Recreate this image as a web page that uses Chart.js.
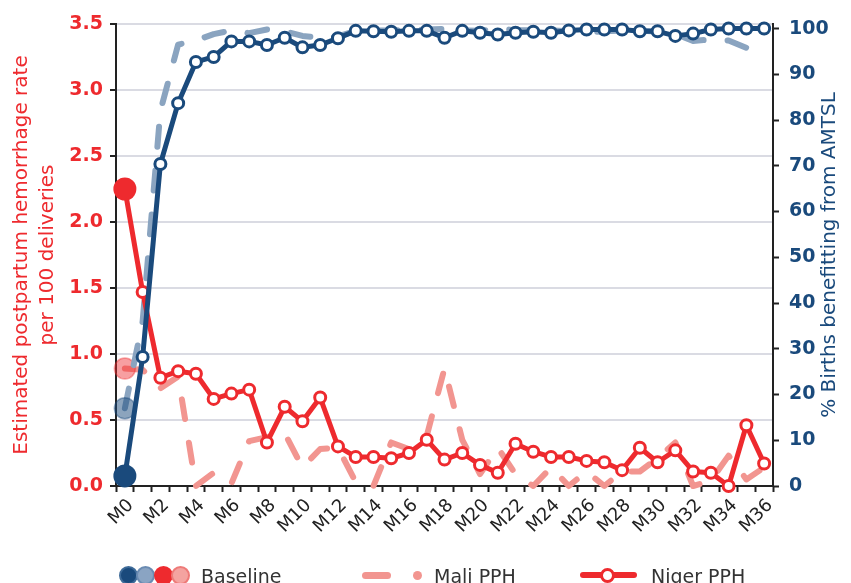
<!DOCTYPE html>
<html>
<head>
<meta charset="utf-8">
<script src="https://cdn.jsdelivr.net/npm/chart.js@4/dist/chart.umd.min.js"></script>
<style>
  html, body { margin: 0; padding: 0; background: #fff; }
  #wrap { position: relative; width: 851px; height: 583px; overflow: hidden; font-family: "DejaVu Sans", sans-serif; }
  #chart { position: absolute; left: 0; top: 0; }
  .lg { position: absolute; }
  .dot { position: absolute; border-radius: 50%; box-sizing: border-box; }
  .lgText { position: absolute; top: 564px; font-size: 19px; line-height: 24px; color: #333; white-space: nowrap; }
</style>
</head>
<body>
<div id="wrap">
  <canvas id="chart" width="851" height="583"></canvas>

  <!-- legend: Baseline -->
  <div class="dot" style="left:119px;top:566px;width:19px;height:19px;background:#1a4a7c;border:2px solid #3d6a98;"></div>
  <div class="dot" style="left:136px;top:566px;width:19px;height:19px;background:#8aa4c3;border:2px solid #6a8bb2;"></div>
  <div class="dot" style="left:154px;top:566px;width:19px;height:19px;background:#ee2a2e;"></div>
  <div class="dot" style="left:171px;top:566px;width:19px;height:19px;background:#f4a3a0;border:2px solid #ee7a78;"></div>
  <div class="lgText" style="left:201px;">Baseline</div>

  <!-- legend: Mali PPH -->
  <div class="lg" style="left:362px;top:572px;width:29px;height:7px;border-radius:4px;background:#f29590;"></div>
  <div class="dot" style="left:413px;top:571px;width:9px;height:9px;background:#f29590;"></div>
  <div class="lgText" style="left:434px;">Mali PPH</div>

  <!-- legend: Niger PPH -->
  <div class="lg" style="left:580px;top:572px;width:57px;height:6px;border-radius:3px;background:#ee2a2e;"></div>
  <div class="dot" style="left:600px;top:568px;width:15px;height:15px;background:#fff;border:3px solid #ee2a2e;"></div>
  <div class="lgText" style="left:651px;">Niger PPH</div>
</div>

<script>
const RED = "#ee2a2e";
const LIGHT_RED = "#f29590";
const NAVY = "#1a4a7c";
const LIGHT_BLUE = "#8aa4c0";
const AXIS = "#222222";
const GRID = "#dadbe3";

const months = [
  "M0", "M1", "M2", "M3", "M4", "M5", "M6", "M7", "M8", "M9",
  "M10", "M11", "M12", "M13", "M14", "M15", "M16", "M17", "M18", "M19",
  "M20", "M21", "M22", "M23", "M24", "M25", "M26", "M27", "M28", "M29",
  "M30", "M31", "M32", "M33", "M34", "M35", "M36"
];

// % births benefitting from AMTSL (right axis)
const nigerAmtsl = [
  2.2, 28.2, 70.4, 83.7, 92.7, 93.8, 97.2, 97.2, 96.4, 98.0,
  95.9, 96.4, 97.9, 99.5, 99.4, 99.3, 99.5, 99.5, 98.0, 99.5,
  99.1, 98.7, 99.1, 99.3, 99.1, 99.6, 99.8, 99.8, 99.8, 99.4,
  99.4, 98.4, 98.9, 99.8, 100, 100, 100
];
const maliAmtsl = [
  17, 36, 82, 96.5, 97.4, 98.8, 99.6, 99.0, 99.8, 99.4,
  98.4, 98.0, 98.3, 99.5, 99.6, 99.6, 99.7, 99.8, 99.9, 99.6,
  99.5, 99.9, 99.7, 99.6, 99.6, 99.4, 99.2, 99.4, 99.6, 99.6,
  99.3, 98.8, 97.3, 97.6, 97.4, 95.8, 98.8
];

// estimated PPH rate per 100 deliveries (left axis)
const nigerPph = [
  2.25, 1.47, 0.82, 0.87, 0.85, 0.66, 0.70, 0.73, 0.33, 0.60,
  0.49, 0.67, 0.30, 0.22, 0.22, 0.21, 0.25, 0.35, 0.20, 0.25,
  0.16, 0.10, 0.32, 0.26, 0.22, 0.22, 0.19, 0.18, 0.12, 0.29,
  0.18, 0.27, 0.11, 0.10, 0.00, 0.46, 0.17
];
const maliPph = [
  0.89, 0.88, 0.74, 0.83, 0.00, 0.10, 0.02, 0.34, 0.37, 0.40,
  0.14, 0.28, 0.29, 0.03, 0.00, 0.33, 0.28, 0.38, 0.89, 0.35,
  0.09, 0.29, 0.09, 0.00, 0.14, 0.00, 0.11, 0.00, 0.11, 0.11,
  0.21, 0.33, 0.00, 0.04, 0.23, 0.05, 0.14
];

const leftTicks = [0, 0.5, 1, 1.5, 2, 2.5, 3, 3.5];
const rightTicks = [0, 10, 20, 30, 40, 50, 60, 70, 80, 90, 100];

const LEFT_TITLE = ["Estimated postpartum hemorrhage rate", "per 100 deliveries"];
const RIGHT_TITLE = "% Births benefitting from AMTSL";

const FONT = '"DejaVu Sans", sans-serif';

// first point of each series is the baseline marker
const isBase = c => c.dataIndex === 0;

// right axis title reads bottom-to-top, so draw it ourselves
const rightTitle = {
  id: "rightTitle",
  afterDraw(chart) {
    const { ctx, chartArea } = chart;
    ctx.save();
    ctx.translate(830, (chartArea.top + chartArea.bottom) / 2);
    ctx.rotate(-Math.PI / 2);
    ctx.font = "20px " + FONT;
    ctx.fillStyle = NAVY;
    ctx.textAlign = "center";
    ctx.textBaseline = "middle";
    ctx.fillText(RIGHT_TITLE, 0, 0);
    ctx.restore();
  }
};

new Chart(document.getElementById("chart"), {
  type: "line",
  data: {
    labels: months,
    datasets: [
      {
        label: "Niger AMTSL",
        data: nigerAmtsl,
        yAxisID: "yR",
        borderColor: NAVY,
        borderWidth: 5,
        pointRadius: c => isBase(c) ? 11.5 : 5.5,
        pointBackgroundColor: c => isBase(c) ? NAVY : "#fff",
        pointBorderColor: NAVY,
        pointBorderWidth: c => isBase(c) ? 0 : 3,
      },
      {
        label: "Niger PPH",
        data: nigerPph,
        yAxisID: "yL",
        borderColor: RED,
        borderWidth: 5,
        pointRadius: c => isBase(c) ? 11.5 : 5.5,
        pointBackgroundColor: c => isBase(c) ? RED : "#fff",
        pointBorderColor: RED,
        pointBorderWidth: c => isBase(c) ? 0 : 3,
      },
      {
        label: "Mali AMTSL",
        data: maliAmtsl,
        yAxisID: "yR",
        borderColor: LIGHT_BLUE,
        borderWidth: 6,
        borderDash: [20, 24],
        borderCapStyle: "round",
        pointRadius: c => isBase(c) ? 10.5 : 0,
        pointBackgroundColor: "rgba(26,74,124,0.5)",
        pointBorderColor: "rgba(26,74,124,0.45)",
        pointBorderWidth: 1.5,
      },
      {
        label: "Mali PPH",
        data: maliPph,
        yAxisID: "yL",
        borderColor: LIGHT_RED,
        borderWidth: 6,
        borderDash: [20, 24],
        borderCapStyle: "round",
        pointRadius: c => isBase(c) ? 10.5 : 0,
        pointBackgroundColor: "rgba(238,42,46,0.45)",
        pointBorderColor: "rgba(238,42,46,0.4)",
        pointBorderWidth: 1.5,
      }
    ]
  },
  options: {
    responsive: false,
    animation: false,
    events: [],
    devicePixelRatio: 1,
    layout: { padding: { top: 24, left: 0, right: 0, bottom: 0 } },
    elements: { line: { tension: 0, borderJoinStyle: "round" } },
    datasets: { line: { clip: false } },
    plugins: { legend: { display: false }, tooltip: { enabled: false } },
    scales: {
      x: {
        type: "category",
        offset: true,
        afterFit: s => { s.height = 97; },
        grid: { offset: true, drawOnChartArea: false, tickLength: 6, tickColor: AXIS, tickWidth: 2 },
        border: { color: AXIS, width: 2 },
        ticks: {
          autoSkip: false,
          maxRotation: 45,
          minRotation: 45,
          padding: 3,
          labelOffset: 6,
          color: AXIS,
          font: { family: FONT, size: 18 },
          callback: (v, i) => (i % 2 === 0 ? months[i] : "")
        }
      },
      yL: {
        position: "left",
        min: 0,
        max: 3.5,
        afterFit: s => { s.width = 116; },
        afterBuildTicks: s => { s.ticks = leftTicks.map(v => ({ value: v })); },
        grid: { color: GRID, lineWidth: 2, tickLength: 6, tickColor: AXIS, tickWidth: 2 },
        border: { color: AXIS, width: 2 },
        ticks: {
          padding: 7,
          color: RED,
          font: { family: FONT, size: 19, weight: "bold" },
          callback: v => Number(v).toFixed(1)
        },
        title: {
          display: true,
          text: LEFT_TITLE,
          color: RED,
          font: { family: FONT, size: 20, lineHeight: 1.3 },
          padding: { top: 9, bottom: 0 }
        }
      },
      yR: {
        position: "right",
        min: 0,
        max: 101,
        afterFit: s => { s.width = 78; },
        afterBuildTicks: s => { s.ticks = rightTicks.map(v => ({ value: v })); },
        grid: { drawOnChartArea: false, tickLength: 6, tickColor: AXIS, tickWidth: 2 },
        border: { color: AXIS, width: 2 },
        ticks: {
          padding: 10,
          color: NAVY,
          font: { family: FONT, size: 19, weight: "bold" }
        }
      }
    }
  },
  plugins: [rightTitle]
});
</script>
</body>
</html>
